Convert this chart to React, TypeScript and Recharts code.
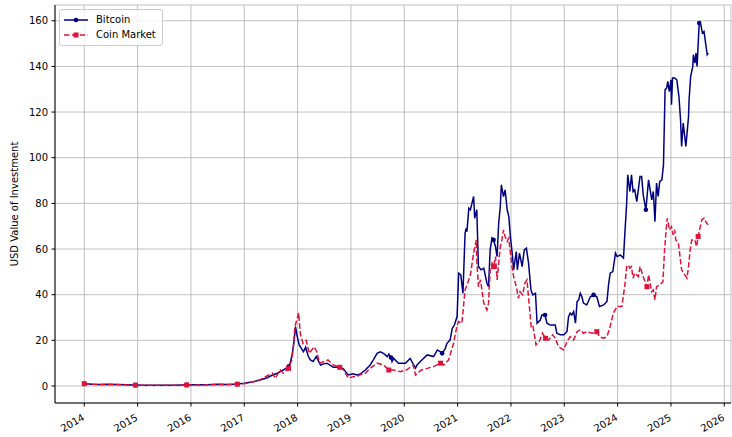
import { CartesianGrid, Legend, Line, LineChart, XAxis, YAxis } from "recharts";

// decimal year, value of $1 invested
const bitcoin: [number, number][] = [
  [2014.0, 1.0], [2014.15, 0.8], [2014.3, 0.7], [2014.45, 0.8], [2014.6, 0.7],
  [2014.8, 0.5], [2014.96, 0.4], [2015.1, 0.3], [2015.3, 0.3], [2015.5, 0.35],
  [2015.7, 0.3], [2015.92, 0.5], [2016.1, 0.5], [2016.3, 0.55], [2016.5, 0.8],
  [2016.7, 0.7], [2016.87, 0.9], [2017.0, 1.2], [2017.17, 1.9], [2017.3, 2.6],
  [2017.43, 3.6], [2017.53, 4.8], [2017.62, 5.6], [2017.675, 6.3], [2017.73, 7.0],
  [2017.83, 8.5], [2017.86, 10], [2017.9, 14], [2017.93, 19], [2017.96, 26],
  [2017.99, 22], [2018.03, 18], [2018.07, 16.5], [2018.11, 15], [2018.15, 17],
  [2018.2, 13], [2018.24, 11.4], [2018.29, 10.7], [2018.35, 12.9], [2018.43, 9.2],
  [2018.5, 9.8], [2018.55, 10], [2018.67, 8.2], [2018.79, 8.2], [2018.86, 7.5],
  [2018.89, 6.5], [2018.95, 4.8], [2019.04, 5.3], [2019.11, 4.8], [2019.18, 5.3],
  [2019.27, 7], [2019.36, 9.2], [2019.42, 11.4], [2019.49, 14.3], [2019.55, 15],
  [2019.61, 14.3], [2019.68, 12.9], [2019.71, 14], [2019.75, 12.5], [2019.77, 10.7],
  [2019.8, 12.1], [2019.89, 10], [2020.02, 10], [2020.11, 12.1], [2020.21, 7.8],
  [2020.24, 9.2], [2020.3, 10.7], [2020.43, 13.6], [2020.55, 12.9], [2020.62, 15.8],
  [2020.68, 15], [2020.71, 14.3], [2020.77, 16.5], [2020.8, 18.7], [2020.86, 20.2],
  [2020.9, 25.3], [2020.94, 26.7], [2020.99, 30.4], [2021.02, 49.4], [2021.06, 48.7],
  [2021.1, 40.6], [2021.14, 67], [2021.16, 69], [2021.175, 67.6], [2021.21, 77.9],
  [2021.24, 77.2], [2021.27, 80.1], [2021.3, 83], [2021.32, 73.5], [2021.36, 77.2],
  [2021.39, 52.3], [2021.44, 50.9], [2021.49, 51.6], [2021.55, 45], [2021.58, 43.5],
  [2021.61, 59.6], [2021.645, 64.8], [2021.675, 64], [2021.71, 61], [2021.74, 56.7],
  [2021.77, 71.3], [2021.8, 78.6], [2021.82, 88.1], [2021.86, 83], [2021.89, 85.9],
  [2021.93, 77.2], [2021.96, 74.2], [2021.99, 65.5], [2022.02, 58.9], [2022.05, 50.9],
  [2022.1, 58.9], [2022.12, 50.9], [2022.16, 58.2], [2022.21, 52.3], [2022.25, 59.6],
  [2022.29, 60.4], [2022.33, 53.8], [2022.375, 42.1], [2022.41, 39.9], [2022.46, 40.6],
  [2022.49, 27.5], [2022.55, 28.9], [2022.58, 31.1], [2022.64, 31.1], [2022.675, 27.5],
  [2022.74, 26.7], [2022.83, 26.7], [2022.86, 23.1], [2022.925, 22.4], [2022.99, 22.4],
  [2023.05, 23.8], [2023.08, 30.4], [2023.11, 31.9], [2023.14, 31.1], [2023.175, 32.6],
  [2023.21, 27.5], [2023.24, 37], [2023.27, 37.7], [2023.3, 40.6], [2023.33, 39.1],
  [2023.36, 36.3], [2023.42, 35.5], [2023.49, 39.1], [2023.55, 39.9], [2023.61, 39.1],
  [2023.66, 34.8], [2023.74, 35.5], [2023.8, 37], [2023.83, 44.3], [2023.86, 49.4],
  [2023.91, 50.1], [2023.96, 58.2], [2023.99, 56.7], [2024.05, 57.4], [2024.11, 56],
  [2024.14, 68.4], [2024.17, 80.1], [2024.19, 92.5], [2024.23, 85.2], [2024.26, 92.5],
  [2024.29, 85.2], [2024.32, 85.9], [2024.36, 80.8], [2024.42, 91.8], [2024.45, 91.8],
  [2024.48, 83.7], [2024.53, 77.2], [2024.58, 90.3], [2024.61, 85.9], [2024.64, 81.5],
  [2024.67, 85.2], [2024.7, 72], [2024.73, 88.9], [2024.76, 83], [2024.79, 89.6],
  [2024.83, 90.3], [2024.86, 96.9], [2024.89, 129.8], [2024.92, 130.5], [2024.94, 133.4],
  [2024.97, 129], [2025.0, 134.1], [2025.01, 123.2], [2025.03, 134.9], [2025.07, 134.9],
  [2025.11, 134.1], [2025.15, 126.8], [2025.18, 116.6], [2025.2, 104.9], [2025.23, 115.2],
  [2025.28, 104.9], [2025.33, 118.1], [2025.34, 125.4], [2025.37, 135.6], [2025.41, 140],
  [2025.42, 145.1], [2025.45, 141.5], [2025.47, 145.8], [2025.49, 140], [2025.53, 159],
  [2025.56, 158.3], [2025.59, 154.6], [2025.62, 155.3], [2025.65, 150.2], [2025.68, 145.1],
  [2025.7, 145.8]
];

const coinMarket: [number, number][] = [
  [2014.0, 1.0], [2014.15, 0.8], [2014.3, 0.6], [2014.45, 0.7], [2014.6, 0.6],
  [2014.8, 0.45], [2014.96, 0.4], [2015.1, 0.3], [2015.3, 0.3], [2015.5, 0.3],
  [2015.7, 0.3], [2015.92, 0.45], [2016.1, 0.45], [2016.3, 0.5], [2016.5, 0.7],
  [2016.7, 0.6], [2016.87, 0.8], [2017.0, 1.0], [2017.17, 1.8], [2017.3, 2.8],
  [2017.43, 4.5], [2017.53, 5.6], [2017.58, 3.4], [2017.62, 5.0], [2017.675, 7.0],
  [2017.73, 5.6], [2017.83, 7.7], [2017.89, 11.4], [2017.92, 17], [2017.95, 26],
  [2018.02, 32], [2018.05, 23], [2018.1, 18.7], [2018.16, 20], [2018.22, 14.3],
  [2018.31, 17.2], [2018.36, 15], [2018.41, 10], [2018.57, 11.4], [2018.67, 9.2],
  [2018.79, 8.2], [2018.86, 7], [2018.95, 3.4], [2019.04, 4.1], [2019.11, 4.1],
  [2019.18, 5.0], [2019.27, 5.6], [2019.36, 7.8], [2019.49, 10], [2019.61, 9.2],
  [2019.71, 7], [2019.8, 7], [2019.92, 6.3], [2020.04, 7], [2020.17, 9.2],
  [2020.21, 4.8], [2020.32, 7], [2020.55, 8.5], [2020.68, 10], [2020.74, 9.2],
  [2020.83, 11.4], [2020.925, 18.7], [2020.99, 26.7], [2021.02, 28.2], [2021.08, 27.5],
  [2021.14, 42.1], [2021.21, 46.5], [2021.24, 48.7], [2021.3, 58.2], [2021.33, 61.8],
  [2021.35, 64], [2021.36, 55.2], [2021.39, 43.5], [2021.43, 46.5], [2021.49, 36.3],
  [2021.55, 33.3], [2021.58, 36.3], [2021.61, 50.9], [2021.645, 53.8], [2021.675, 52.3],
  [2021.71, 56.7], [2021.74, 46.5], [2021.77, 53.8], [2021.8, 61], [2021.83, 64],
  [2021.86, 68.4], [2021.89, 65.5], [2021.93, 63.3], [2021.96, 64.8], [2021.99, 58.2],
  [2022.02, 52.3], [2022.05, 47.9], [2022.1, 43.5], [2022.14, 38.4], [2022.17, 41.3],
  [2022.22, 39.9], [2022.26, 45], [2022.3, 46.5], [2022.34, 36.3], [2022.38, 26],
  [2022.41, 26.7], [2022.47, 18], [2022.53, 19.4], [2022.59, 23.1], [2022.65, 20.9],
  [2022.71, 20.2], [2022.78, 22.4], [2022.83, 21], [2022.89, 17.2], [2022.99, 15.8],
  [2023.05, 19.4], [2023.11, 21.6], [2023.175, 20.2], [2023.24, 23.8], [2023.3, 24.6],
  [2023.36, 23.1], [2023.42, 23.8], [2023.52, 23.1], [2023.61, 23.8], [2023.66, 21.6],
  [2023.74, 20.9], [2023.8, 21.6], [2023.86, 26], [2023.92, 31.9], [2023.99, 34.8],
  [2024.08, 34.8], [2024.14, 45], [2024.17, 52.3], [2024.2, 53], [2024.23, 51.6],
  [2024.26, 52.3], [2024.29, 47.2], [2024.32, 49.4], [2024.39, 47.9], [2024.42, 52.3],
  [2024.48, 47.9], [2024.55, 43.5], [2024.58, 48.7], [2024.61, 45], [2024.64, 41.3],
  [2024.67, 42.1], [2024.7, 37.7], [2024.73, 43.5], [2024.79, 44.3], [2024.85, 45.7],
  [2024.88, 59.6], [2024.91, 68.4], [2024.93, 73.5], [2024.95, 71.3], [2024.97, 68.4],
  [2025.01, 69.8], [2025.04, 66.2], [2025.07, 68.4], [2025.09, 64], [2025.14, 62.5],
  [2025.17, 56.7], [2025.2, 50.9], [2025.24, 49.4], [2025.3, 47.2], [2025.33, 52.3],
  [2025.36, 59.6], [2025.39, 64], [2025.45, 64], [2025.48, 61], [2025.51, 65.5],
  [2025.55, 69.8], [2025.58, 72.8], [2025.62, 73.5], [2025.67, 71.3], [2025.7, 70.6]
];

// marker every ~50 weeks, like markevery on weekly data
const markerYears = [
  2014.0, 2014.96, 2015.92, 2016.87, 2017.83, 2018.79, 2019.75,
  2020.71, 2021.67, 2022.63, 2023.58, 2024.54, 2025.52
];

const yearTicks = [2014, 2015, 2016, 2017, 2018, 2019, 2020, 2021, 2022, 2023, 2024, 2025, 2026];
const valueTicks = [0, 20, 40, 60, 80, 100, 120, 140, 160];

const BTC_COLOR = "#000080";
const MARKET_COLOR = "#dc143c";
const FONT = "'DejaVu Sans', sans-serif";

const toRows = (series: [number, number][]) => series.map(([t, v]) => ({ t, v }));

const markerIndexes = (series: [number, number][]) => {
  const set = new Set<number>();
  markerYears.forEach((m) => {
    let best = 0;
    series.forEach(([t], i) => {
      if (Math.abs(t - m) < Math.abs(series[best][0] - m)) best = i;
    });
    set.add(best);
  });
  return set;
};

const btcRows = toRows(bitcoin);
const marketRows = toRows(coinMarket);
const btcMarks = markerIndexes(bitcoin);
const marketMarks = markerIndexes(coinMarket);

const YearTick = ({ x, y, payload }: any) => (
  <text
    x={x + 1}
    y={y + 11}
    transform={`rotate(-30 ${x + 1} ${y + 11})`}
    textAnchor="end"
    fontSize={10}
    fontFamily={FONT}
    fill="#000"
  >
    {payload.value}
  </text>
);

const btcDot = (props: any) => {
  const { cx, cy, index } = props;
  if (!btcMarks.has(index)) return <g key={`b${index}`} />;
  return <circle key={`b${index}`} cx={cx} cy={cy} r={2.3} fill={BTC_COLOR} />;
};

const marketDot = (props: any) => {
  const { cx, cy, index } = props;
  if (!marketMarks.has(index)) return <g key={`m${index}`} />;
  return <rect key={`m${index}`} x={cx - 2.5} y={cy - 2.5} width={5} height={5} fill={MARKET_COLOR} />;
};

const LegendBox = () => (
  <div
    style={{
      background: "rgba(255,255,255,0.8)",
      border: "1px solid #cccccc",
      borderRadius: 3,
      padding: "3px 6px 3px 3px",
      fontFamily: FONT,
      fontSize: 10,
      lineHeight: "14.5px",
      color: "#000"
    }}
  >
    <div style={{ display: "flex", alignItems: "center" }}>
      <svg width={26} height={10} style={{ marginRight: 7 }}>
        <line x1={1} x2={25} y1={5} y2={5} stroke={BTC_COLOR} strokeWidth={1.5} />
        <circle cx={13} cy={5} r={2.3} fill={BTC_COLOR} />
      </svg>
      Bitcoin
    </div>
    <div style={{ display: "flex", alignItems: "center" }}>
      <svg width={26} height={10} style={{ marginRight: 7 }}>
        <line x1={1} x2={25} y1={5} y2={5} stroke={MARKET_COLOR} strokeWidth={1.5} strokeDasharray="5.5 2.4" />
        <rect x={10.5} y={2.5} width={5} height={5} fill={MARKET_COLOR} />
      </svg>
      Coin Market
    </div>
  </div>
);

export default function App() {
  return (
    <div style={{ position: "absolute", left: 0, top: 0, background: "#fff" }}>
      <LineChart
        width={732}
        height={437}
        margin={{ top: 5, right: 1, bottom: 0, left: 0 }}
        style={{ fontFamily: FONT }}
      >
        <CartesianGrid stroke="#b0b0b0" strokeWidth={0.8} />
        <XAxis
          dataKey="t"
          type="number"
          domain={[2013.451, 2026.126]}
          allowDataOverflow
          ticks={yearTicks}
          interval={0}
          height={34}
          tickSize={3.5}
          tickMargin={2}
          stroke="#000"
          tick={<YearTick />}
        />
        <XAxis
          xAxisId="top"
          orientation="top"
          type="number"
          domain={[2013.451, 2026.126]}
          height={0}
          tick={false}
          tickLine={false}
          stroke="#000"
        />
        <YAxis
          type="number"
          domain={[-7.45, 166.9]}
          allowDataOverflow
          ticks={valueTicks}
          interval={0}
          width={55}
          tickSize={3.5}
          tickMargin={3.5}
          stroke="#000"
          tick={{ fontSize: 10, fill: "#000", fontFamily: FONT }}
          label={({ viewBox }: any) => (
            <text
              x={viewBox.x + 18}
              y={viewBox.y + viewBox.height / 2}
              transform={`rotate(-90 ${viewBox.x + 18} ${viewBox.y + viewBox.height / 2})`}
              textAnchor="middle"
              fontSize={10}
              fontFamily={FONT}
              fill="#000"
            >
              USD Value of Investment
            </text>
          )}
        />
        <YAxis
          yAxisId="right"
          orientation="right"
          type="number"
          domain={[-7.45, 166.9]}
          width={0}
          tick={false}
          tickLine={false}
          stroke="#000"
        />
        <Legend
          layout="horizontal"
          verticalAlign="middle"
          align="center"
          content={<LegendBox />}
          wrapperStyle={{ position: "absolute", left: 59, top: 9, width: "auto" }}
        />
        <Line
          data={btcRows}
          dataKey="v"
          name="Bitcoin"
          type="linear"
          stroke={BTC_COLOR}
          strokeWidth={1.5}
          dot={btcDot}
          activeDot={false}
          isAnimationActive={false}
        />
        <Line
          data={marketRows}
          dataKey="v"
          name="Coin Market"
          type="linear"
          stroke={MARKET_COLOR}
          strokeWidth={1.5}
          strokeDasharray="5.5 2.4"
          dot={marketDot}
          activeDot={false}
          isAnimationActive={false}
        />
      </LineChart>
    </div>
  );
}
